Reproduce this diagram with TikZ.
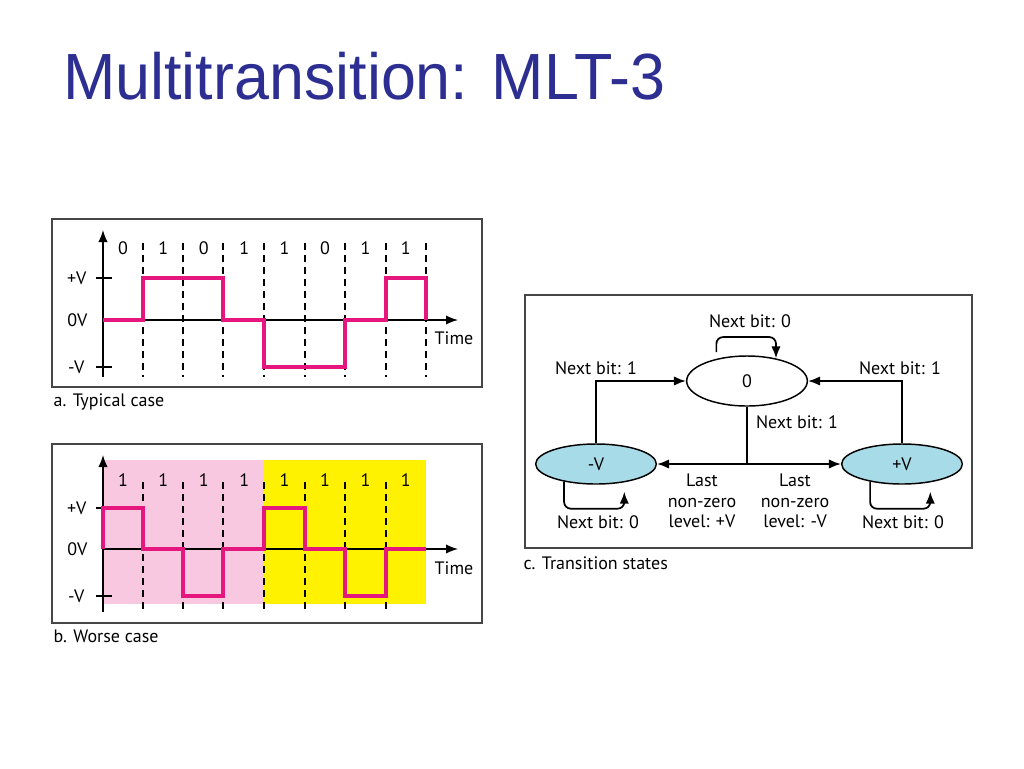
\documentclass[tikz,border=0pt]{standalone}
\usepackage{fontspec}
\setmainfont{PT Sans}
\newfontfamily\titlefont{Liberation Sans}
\usepackage{tikz}
\usetikzlibrary{arrows.meta,shapes.geometric,positioning,calc}
\definecolor{titleblue}{RGB}{44,46,145}
\definecolor{pulse}{RGB}{229,23,126}
\definecolor{pinkbg}{RGB}{248,200,225}
\definecolor{statefill}{RGB}{168,219,232}
\definecolor{framegray}{RGB}{70,70,70}
\tikzset{
  frame/.style={draw=framegray, line width=1.1pt},
  axis/.style={line width=1pt},
  signal/.style={draw=pulse, line width=2.4pt, line join=miter},
  bitline/.style={dash pattern=on 5.5pt off 3.5pt, line width=0.9pt},
  link/.style={line width=1.3pt},
  state/.style={ellipse, draw, line width=1.1pt, inner sep=0pt, minimum width=90.5pt, minimum height=30pt, font=\fontsize{13.5}{15}\selectfont},
  lbl/.style={font=\fontsize{13.5}{15.5}\selectfont, inner sep=1pt},
}

\begin{document}
\begin{tikzpicture}[>={Latex[length=9pt,width=7pt]}, x=0.75pt, y=-0.75pt]
\useasboundingbox (0,0) rectangle (1024,768);
\node[anchor=base west, inner sep=0pt, text=titleblue, font=\titlefont\fontsize{49}{55}\selectfont] (title) at (63,99) {\scalebox{0.962}[1]{Multitransition: MLT-3}};

% a. typical case
\draw[frame] (52,219) rectangle (482,387);
\foreach \x in {143,183,223,264,305,345,386,426}
  \draw[bitline] (\x,243) -- (\x,377);
\foreach \bit [count=\i from 0] in {0,1,0,1,1,0,1,1}
  \node[lbl] (abit\i) at (123+40.4*\i,248) {\bit};
\draw[axis,->] (103,377) -- (103,230);
\draw[axis,->] (103,320) -- (458,320);
\draw[axis] (96,278) -- (112,278);
\draw[axis] (96,367) -- (112,367);
\draw[signal] (103,320) -- (143,320) -- (143,278) -- (223,278) -- (223,320) -- (264,320) -- (264,367) -- (345,367) -- (345,320) -- (386,320) -- (386,278) -- (426,278) -- (426,320);
\node[lbl, anchor=east] (aplus) at (88,278) {+V};
\node[lbl, anchor=east] (azero) at (89,320) {0V};
\node[lbl, anchor=east] (aminus) at (86,367) {-V};
\node[lbl] (atime) at (454,338) {Time};
\node[lbl, anchor=west] (acap) at (52,402) {a. Typical case};

% b. worse case
\fill[pinkbg] (104,460) rectangle (264,604);
\fill[yellow] (264,460) rectangle (426,604);
\draw[frame] (52,444) rectangle (482,623);
\foreach \x in {143,183,223,264,305,345,386}
  \draw[bitline] (\x,482) -- (\x,613);
\foreach \bit [count=\i from 0] in {1,1,1,1,1,1,1,1}
  \node[lbl] (bbit\i) at (123+40.4*\i,480) {\bit};
\draw[axis,->] (103,612) -- (103,455);
\draw[axis,->] (103,549) -- (458,549);
\draw[axis] (96,508) -- (112,508);
\draw[axis] (96,596) -- (112,596);
\draw[signal] (103,549) -- (103,508) -- (143,508) -- (143,549) -- (183,549) -- (183,596) -- (223,596) -- (223,549) -- (264,549) -- (264,508) -- (305,508) -- (305,549) -- (345,549) -- (345,596) -- (386,596) -- (386,549) -- (426,549);
\node[lbl, anchor=east] (bplus) at (88,508) {+V};
\node[lbl, anchor=east] (bzero) at (89,549) {0V};
\node[lbl, anchor=east] (bminus) at (86,596) {-V};
\node[lbl] (btime) at (454,568) {Time};
\node[lbl, anchor=west] (bcap) at (52,636) {b. Worse case};

% c. transition states
\draw[frame] (525,295) rectangle (972,548);
\node[state, fill=white, minimum height=37.5pt] (zero) at (747,381) {0};
\node[state, fill=statefill] (neg) at (596,464) {-V};
\node[state, fill=statefill] (pos) at (902,464) {+V};
\coordinate (split) at (zero.south |- neg.east);
\draw[link,->] (neg.north) |- (zero.west);
\draw[link,->] (pos.north) |- (zero.east);
\draw[link] (zero.south) -- (split);
\draw[link,->] (split) -- (neg.east);
\draw[link,->] (split) -- (pos.west);
\draw[link,->,rounded corners=5pt] ([yshift=5pt]zero.144) -- ++(0,-15) -| (zero.38);
\draw[link,->,rounded corners=5pt] (neg.209) -- ++(0,27) -| ([yshift=-7pt]neg.-33);
\draw[link,->,rounded corners=5pt] (pos.209) -- ++(0,27) -| ([yshift=-7pt]pos.-33);
\node[lbl] (loopzero) at (750,321) {Next bit: 0};
\node[lbl] (negup) at (596,368) {Next bit: 1};
\node[lbl] (posup) at (900,368) {Next bit: 1};
\node[lbl] (zerodown) at (797,422) {Next bit: 1};
\node[lbl, align=center] (tonegl) at (702,501) {Last\\non-zero\\level: +V};
\node[lbl, align=center] (toposl) at (795,501) {Last\\non-zero\\level: -V};
\node[lbl] (loopneg) at (598,522) {Next bit: 0};
\node[lbl] (looppos) at (903,522) {Next bit: 0};
\node[lbl, anchor=west] (ccap) at (522,563) {c. Transition states};
\end{tikzpicture}
\end{document}
